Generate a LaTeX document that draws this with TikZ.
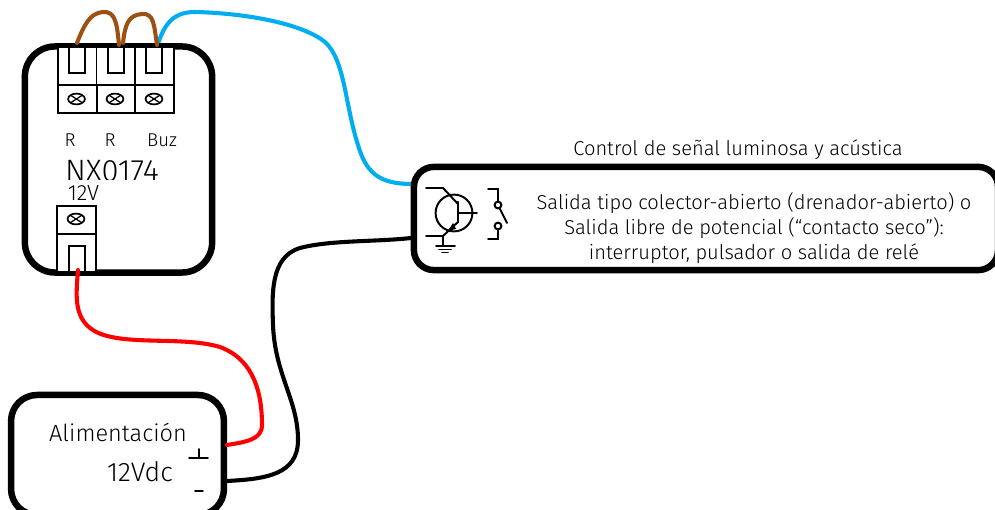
\documentclass[tikz,border=0pt]{standalone}
\usepackage{fontspec}
\usetikzlibrary{shapes.geometric}
\setmainfont{Fira Sans Light}
\begin{document}
\begin{tikzpicture}[x=.025cm, y=-.025cm, line cap=round,
box node/.style={rectangle,draw,line width=4.6pt,rounded corners=.75cm,inner sep=0pt},
cell node/.style={rectangle,draw,line width=1.3pt,inner sep=0pt},
screw node/.style={ellipse,draw,line width=1.2pt,minimum width=.42cm,minimum height=.27cm,inner sep=0pt,path picture={\draw[line width=.9pt] (path picture bounding box.north west) -- (path picture bounding box.south east) (path picture bounding box.north east) -- (path picture bounding box.south west);}},
txt node/.style={inner sep=0pt,font=\fontsize{14.3}{17.8}\selectfont},
small node/.style={inner sep=0pt,font=\fontsize{13.2}{16}\selectfont},
big node/.style={inner sep=0pt,font=\fontsize{16.7}{20}\selectfont},
wire/.style={line width=2.9pt},
sym/.style={line width=1.4pt}]
\useasboundingbox (0,0) rectangle (995,510);
% blue wire goes under the box
\coordinate (pinBuz) at (158,44);
\coordinate (inBlue) at (412,184);
\draw[wire,color={rgb,255:red,0;green,174;blue,239}] (pinBuz) .. controls (165,22) and (175,12) .. (195,12) .. controls (240,13) and (300,22) .. (325,42) .. controls (345,60) and (345,105) .. (358,145) .. controls (366,172) and (378,184) .. (inBlue);
\begin{scope}
\node[box node,minimum width=4.68cm,minimum height=5.65cm] (nx) at (118.5,159.5) {};
\node[box node,minimum width=14.6cm,minimum height=2.58cm,rounded corners=.5cm] (ctrl) at (706,218.5) {};
\node[box node,minimum width=5.32cm,minimum height=3.0cm,rounded corners=.65cm] (psu) at (117.5,455) {};
\end{scope}
% upper terminals
\begin{scope}
\node[cell node,fill=white,minimum width=.975cm,minimum height=.95cm] (t1) at (77.5,66) {};
\node[cell node,fill=white,minimum width=.975cm,minimum height=.95cm] (t2) at (116,66) {};
\node[cell node,fill=white,minimum width=.975cm,minimum height=.95cm] (t3) at (154.5,66) {};
\node[cell node,minimum width=.975cm,minimum height=.7cm] (s1) at (77.5,99) {};
\node[cell node,minimum width=.975cm,minimum height=.7cm] (s2) at (116,99) {};
\node[cell node,minimum width=.975cm,minimum height=.7cm] (s3) at (154.5,99) {};
\node[cell node,minimum width=.4cm,minimum height=.65cm] (c1) at (77,60) {};
\node[cell node,minimum width=.4cm,minimum height=.65cm] (c2) at (116,60) {};
\node[cell node,minimum width=.4cm,minimum height=.65cm] (c3) at (154,60) {};
\node[screw node] (v1) at (76.5,99) {};
\node[screw node] (v2) at (115,99) {};
\node[screw node] (v3) at (154,99) {};
\end{scope}
% labels
\node[small node] (lR1) at (70,140) {R};
\node[small node] (lR2) at (110,140) {R};
\node[small node] (lBuz) at (162,140) {Buz};
\node[inner sep=0pt,font=\fontsize{22}{24}\selectfont] (lNX) at (112,171.5) {NX0174};
\fill[white] (60,180) rectangle (165,204);
\node[inner sep=0pt,font=\fontsize{15.6}{18}\selectfont] (l12) at (83.5,192.5) {12V};
\node[txt node] (lTitle) at (738,149.5) {Control de señal luminosa y acústica};
\node[txt node,align=center] (lCtrl) at (754,228.5) {Salida tipo colector-abierto (drenador-abierto) o\\Salida libre de potencial (“contacto seco”):\\interruptor, pulsador o salida de relé};
\node[big node] (lAli) at (118,432) {Alimentación};
\node[inner sep=0pt,font=\fontsize{19}{22}\selectfont] (lVdc) at (140,472) {12Vdc};
% lower terminal
\node[cell node,minimum width=.975cm,minimum height=.7cm] (s4) at (76.5,220) {};
\node[cell node,fill=white,minimum width=.975cm,minimum height=.95cm] (t4) at (76.5,253) {};
\node[cell node,minimum width=.4cm,minimum height=.65cm] (c4) at (77,259) {};
\node[screw node] (v4) at (76,219) {};
% brown links
\coordinate (pinR1) at (77,43);
\coordinate (pinR2) at (119,45);
\coordinate (pinR3) at (123,43);
\coordinate (pinB) at (157,45);
\draw[wire,color={rgb,255:red,156;green,81;blue,18}] (pinR1) .. controls (84,25) and (90,13) .. (103,12) .. controls (116,11) and (117,25) .. (pinR2);
\draw[wire,color={rgb,255:red,156;green,81;blue,18}] (pinR3) .. controls (125,25) and (128,15) .. (142,14) .. controls (154,13) and (154,25) .. (pinB);
% power wires
\coordinate (pin12) at (78,270);
\coordinate (psuPlus) at (227,445);
\coordinate (psuMinus) at (227,481);
\coordinate (ctrlIn) at (411,238);
\draw[wire,red] (pin12) .. controls (76,295) and (74,315) .. (90,328) .. controls (115,348) and (180,335) .. (220,347) .. controls (255,360) and (262,395) .. (262,425) .. controls (262,440) and (245,442) .. (psuPlus);
\draw[wire,black] (ctrlIn) .. controls (375,242) and (330,240) .. (300,248) .. controls (270,257) and (272,295) .. (273,325) .. controls (275,375) and (298,400) .. (298,440) .. controls (298,475) and (265,479) .. (psuMinus);
% supply marks
\coordinate (plusA) at (189,458);
\coordinate (plusB) at (208,458);
\coordinate (plusC) at (199,458);
\coordinate (plusD) at (199,449);
\coordinate (minA) at (195,491);
\coordinate (minB) at (203,491);
\draw[sym] (plusA) -- (plusB) (plusC) -- (plusD);
\draw[sym] (minA) -- (minB);
% transistor
\node[circle,draw,line width=1.4pt,minimum size=.92cm,inner sep=0pt] (tr) at (454,213) {};
\coordinate (colA) at (426,188);
\coordinate (colB) at (443,188);
\coordinate (emB) at (443,236);
\coordinate (emA) at (426,236);
\coordinate (baseTop) at (458,202);
\coordinate (baseBot) at (458,222);
\coordinate (colEnd) at (458,204);
\coordinate (baseMid) at (458,213);
\coordinate (baseEnd) at (477,213);
\draw[sym] (colA) -- (colB) -- (colEnd);
\draw[sym] (emA) -- (emB) -- (baseBot);
\draw[sym,line width=1.6pt] (baseTop) -- (baseBot);
\draw[sym] (baseMid) -- (baseEnd);
\fill (448,231) -- (453,223) -- (456,229) -- cycle;
\draw[sym] (emB) -- (443,246) (436,246) -- (455,246) (439,249.5) -- (451,249.5) (442,252.5) -- (448,252.5);
% switch
\node[circle,draw,line width=1.4pt,minimum size=.17cm,inner sep=0pt] (sw1) at (498,205) {};
\node[circle,draw,line width=1.4pt,minimum size=.17cm,inner sep=0pt] (sw2) at (498,226) {};
\coordinate (swA) at (488,189);
\coordinate (swB) at (488,239);
\coordinate (swC) at (498,189);
\coordinate (swD) at (498,239);
\coordinate (swE) at (507,223);
\draw[sym] (swA) -- (swC) -- (sw1);
\draw[sym] (swB) -- (swD) -- (sw2);
\draw[sym] (sw1) -- (swE);
\end{tikzpicture}
\end{document}
